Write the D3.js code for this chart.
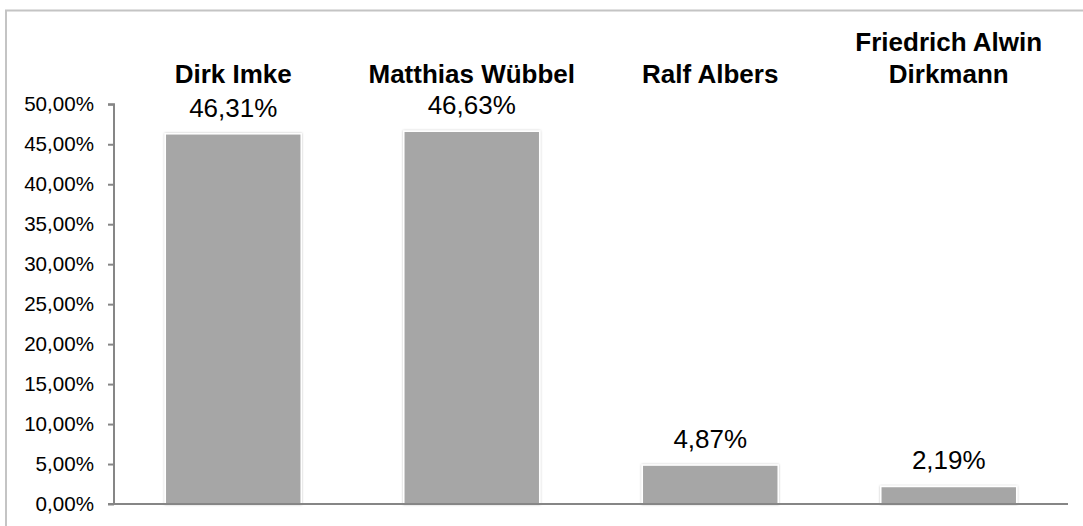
<!DOCTYPE html>
<html>
<head>
<meta charset="utf-8">
<script src="https://cdn.jsdelivr.net/npm/d3@7"></script>
<style>
  html, body { margin: 0; padding: 0; background: #fff; }
  svg { display: block; font-family: "Liberation Sans", Arial, sans-serif; }
</style>
</head>
<body>
<svg id="chart" width="1083" height="526"></svg>
<script>
const categories = ["Dirk Imke", "Matthias Wübbel", "Ralf Albers", "Friedrich Alwin Dirkmann"];
const categoryLines = [["Dirk Imke"], ["Matthias Wübbel"], ["Ralf Albers"], ["Friedrich Alwin", "Dirkmann"]];
const values = [46.31, 46.63, 4.87, 2.19];
const yTicks = [0, 5, 10, 15, 20, 25, 30, 35, 40, 45, 50];

const fmt = v => v.toFixed(2).replace(".", ",") + "%";

const svg = d3.select("#chart");
const plot = { left: 114, right: 1068, top: 104.3, bottom: 504 };

// outer chart border
svg.append("rect")
  .attr("x", 6).attr("y", 10.5)
  .attr("width", 1100).attr("height", 600)
  .attr("fill", "none").attr("stroke", "#c4c4c4").attr("stroke-width", 2);

const defs = svg.append("defs");
const f = defs.append("filter").attr("id", "shadow")
  .attr("x", "-10%").attr("y", "-10%").attr("width", "120%").attr("height", "120%");
f.append("feDropShadow").attr("dx", 0).attr("dy", 0).attr("stdDeviation", 1.2)
  .attr("flood-color", "#000").attr("flood-opacity", 0.25);

const x = d3.scaleBand().domain(categories).range([plot.left, plot.right]).paddingInner(0.43).paddingOuter(0.215);
const y = d3.scaleLinear().domain([0, 50]).range([plot.bottom, plot.top]);

// bars
svg.append("g").selectAll("rect").data(values).join("rect")
  .attr("x", (d, i) => x(categories[i]))
  .attr("y", d => y(d))
  .attr("width", x.bandwidth())
  .attr("height", d => y(0) - y(d))
  .attr("fill", "#a6a6a6")
  .attr("stroke", "#ffffff")
  .attr("stroke-width", 1.5)
  .attr("filter", "url(#shadow)");

// y axis
const yAxis = d3.axisLeft(y).tickValues(yTicks).tickFormat(fmt).tickSize(6).tickPadding(14);
const gy = svg.append("g").attr("transform", `translate(${plot.left},0)`).call(yAxis);
gy.select(".domain").attr("stroke", "#868686").attr("stroke-width", 2).attr("d", `M-6,${plot.top}H0V${plot.bottom}`);
gy.selectAll(".tick line").attr("stroke", "#868686").attr("stroke-width", 2);
gy.selectAll(".tick text").attr("font-size", 20.6).attr("fill", "#000")
  .attr("font-family", "'Liberation Sans', Arial, sans-serif");

// x axis baseline
const xAxis = d3.axisBottom(x).tickSize(0).tickFormat("");
const gx = svg.append("g").attr("transform", `translate(0,${plot.bottom})`).call(xAxis);
gx.select(".domain").attr("stroke", "#868686").attr("stroke-width", 2).attr("d", `M${plot.left - 6},0H${plot.right}`);

// value labels
svg.append("g").selectAll("text").data(values).join("text")
  .attr("x", (d, i) => x(categories[i]) + x.bandwidth() / 2)
  .attr("y", d => y(d) - 17)
  .attr("text-anchor", "middle")
  .attr("font-size", 26)
  .attr("fill", "#000")
  .text(d => fmt(d));

// category labels (top)
const lineH = 31.5;
const lastBaseline = 82.5;
const cg = svg.append("g");
categoryLines.forEach((lines, i) => {
  const t = cg.append("text")
    .attr("text-anchor", "middle")
    .attr("font-size", 26)
    .attr("font-weight", "bold")
    .attr("fill", "#000");
  lines.forEach((ln, j) => {
    t.append("tspan")
      .attr("x", x(categories[i]) + x.bandwidth() / 2)
      .attr("y", lastBaseline - (lines.length - 1 - j) * lineH)
      .text(ln);
  });
});
</script>
</body>
</html>
